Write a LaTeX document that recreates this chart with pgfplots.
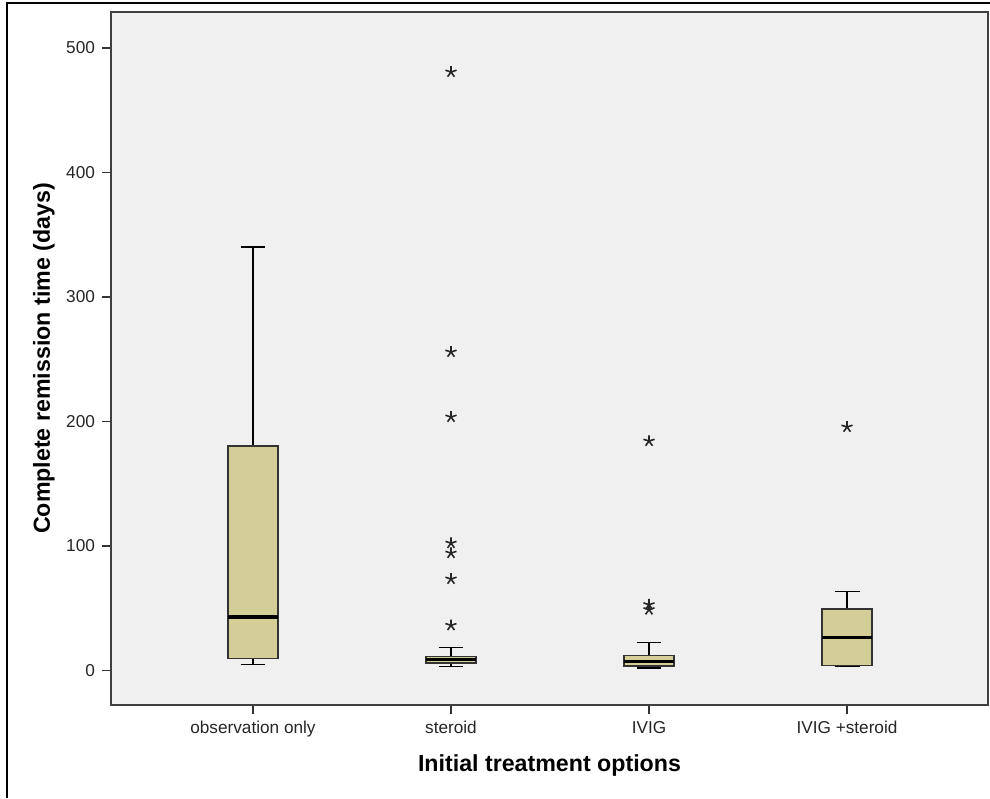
\documentclass[border=0pt]{standalone}
\usepackage{pgfplots}
\pgfplotsset{compat=1.18}
\usepackage{fontspec}
\setmainfont{Liberation Sans}
\definecolor{boxfill}{RGB}{211,206,152}
\definecolor{plotbg}{RGB}{240,240,240}
\begin{document}
\begin{tikzpicture}
\path[use as bounding box] (0,0) rectangle (495pt,-399pt);
\fill[white] (0,0) rectangle (495pt,-399pt);
\draw[line width=1pt, black] (3.5pt,-399pt) -- (3.5pt,-1.5pt) -- (495pt,-1.5pt);
\begin{axis}[
  at={(55.5pt,-6pt)}, anchor=north west,
  scale only axis,
  width=438.5pt, height=346.5pt,
  xmin=-0.717, xmax=3.712,
  ymin=-27.7, ymax=528.9,
  axis background/.style={fill=plotbg},
  axis line style={draw=black!75, line width=0.6pt},
  xtick={0,1,2,3},
  xticklabels={observation only, steroid, IVIG, IVIG +steroid},
  ytick={0,100,200,300,400,500},
  tick align=outside,
  xtick pos=bottom, ytick pos=left,
  major tick length=4.5pt,
  tick style={black!80, line width=0.6pt},
  /pgf/number format/assume math mode=true,
  ticklabel style={font=\fontsize{8.6}{10}\selectfont, text=black!85},
  xlabel={\bfseries Initial treatment options},
  ylabel={\bfseries Complete remission time (days)},
  label style={font=\fontsize{11.6}{13}\selectfont},
  xlabel style={at={(axis description cs:0.5,-0.088)}, anchor=center},
  ylabel style={at={(axis description cs:-0.0764,0.5)}, anchor=center},
  clip=false,
  wh/.style={black, line width=0.6pt, no marks},
  bx/.style={draw=black!80, fill=boxfill, line width=0.7pt, no marks},
  md/.style={black, line width=1.6pt, no marks},
  ol/.style={only marks, mark=star, mark size=2.9pt, mark options={black!85, line width=0.8pt}},
]
% observation only
\addplot[wh] coordinates {(0,180.3) (0,340.2)};
\addplot[wh] coordinates {(-0.063,340.2) (0.063,340.2)};
\addplot[wh] coordinates {(0,9.6) (0,4.8)};
\addplot[wh] coordinates {(-0.063,4.8) (0.063,4.8)};
\addplot[bx] coordinates {(-0.1265,9.6) (0.1265,9.6) (0.1265,180.3) (-0.1265,180.3)} -- cycle;
\addplot[md] coordinates {(-0.1265,43) (0.1265,43)};
% steroid
\addplot[wh] coordinates {(1,11.5) (1,18.7)};
\addplot[wh] coordinates {(0.937,18.7) (1.063,18.7)};
\addplot[wh] coordinates {(1,6.2) (1,3.5)};
\addplot[wh] coordinates {(0.937,3.5) (1.063,3.5)};
\addplot[bx] coordinates {(0.8735,6.2) (1.1265,6.2) (1.1265,11.5) (0.8735,11.5)} -- cycle;
\addplot[md] coordinates {(0.8735,8.8) (1.1265,8.8)};
\addplot[ol] coordinates {(1,480.7) (1,255.8) (1,203.6) (1,102.3) (1,94.3) (1,73.5) (1,36.3)};
% IVIG
\addplot[wh] coordinates {(2,12.0) (2,22.7)};
\addplot[wh] coordinates {(1.937,22.7) (2.063,22.7)};
\addplot[wh] coordinates {(2,3.5) (2,2.1)};
\addplot[wh] coordinates {(1.937,2.1) (2.063,2.1)};
\addplot[bx] coordinates {(1.8735,3.5) (2.1265,3.5) (2.1265,12.0) (1.8735,12.0)} -- cycle;
\addplot[md] coordinates {(1.8735,7.2) (2.1265,7.2)};
\addplot[ol] coordinates {(2,184.3) (2,52.9) (2,48.9)};
% IVIG +steroid
\addplot[wh] coordinates {(3,49.4) (3,63.6)};
\addplot[wh] coordinates {(2.937,63.6) (3.063,63.6)};
\addplot[wh] coordinates {(3,4) (3,3)};
\addplot[wh] coordinates {(2.937,3) (3.063,3)};
\addplot[bx] coordinates {(2.8735,4) (3.1265,4) (3.1265,49.4) (2.8735,49.4)} -- cycle;
\addplot[md] coordinates {(2.8735,26.4) (3.1265,26.4)};
\addplot[ol] coordinates {(3,195.6)};
\end{axis}
\end{tikzpicture}
\end{document}
